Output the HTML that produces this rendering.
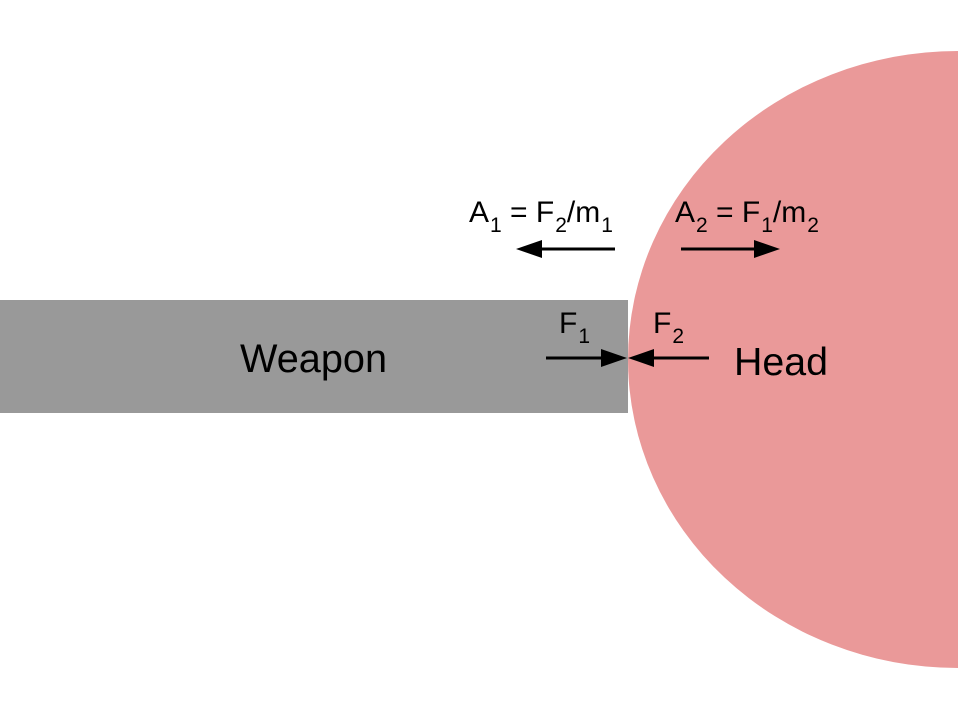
<!DOCTYPE html>
<html><head><style>body{margin:0;background:#fff}svg{display:block}</style></head><body>
<svg width="960" height="720" viewBox="0 0 960 720" xmlns="http://www.w3.org/2000/svg" font-family="Liberation Sans, Arial, sans-serif" fill="#000">
<rect width="960" height="720" fill="#fff"/>
<path d="M958,51 A330,308.5 0 0 0 958,668 Z" fill="#ea9999"/>
<rect x="0" y="300" width="628" height="113" fill="#999999"/>
<text x="240" y="372" font-size="40" textLength="147" lengthAdjust="spacingAndGlyphs">Weapon</text>
<text x="734" y="375" font-size="39" textLength="94" lengthAdjust="spacingAndGlyphs">Head</text>
<text x="469" y="222" font-size="30">A<tspan font-size="21" dy="10" dx="1">1</tspan><tspan dy="-10"> = F</tspan><tspan font-size="21" dy="10" dx="1">2</tspan><tspan dy="-10">/m</tspan><tspan font-size="21" dy="10" dx="1">1</tspan></text>
<text x="675" y="222" font-size="30">A<tspan font-size="21" dy="10" dx="1">2</tspan><tspan dy="-10"> = F</tspan><tspan font-size="21" dy="10" dx="1">1</tspan><tspan dy="-10">/m</tspan><tspan font-size="21" dy="10" dx="1">2</tspan></text>
<text x="559" y="333" font-size="30">F<tspan font-size="21" dy="10" dx="1">1</tspan></text>
<text x="653" y="333" font-size="30">F<tspan font-size="21" dy="10" dx="1">2</tspan></text>
<g stroke="#000" stroke-width="3">
<line x1="615" y1="249" x2="538" y2="249"/>
<line x1="681" y1="249" x2="758" y2="249"/>
<line x1="546" y1="358" x2="606" y2="358"/>
<line x1="709" y1="358" x2="648" y2="358"/>
</g>
<polygon points="516,249 542,240 542,258"/>
<polygon points="780,249 754,240 754,258"/>
<polygon points="627,358 601,349 601,367"/>
<polygon points="628,358 654,349 654,367"/>
</svg>
</body></html>
